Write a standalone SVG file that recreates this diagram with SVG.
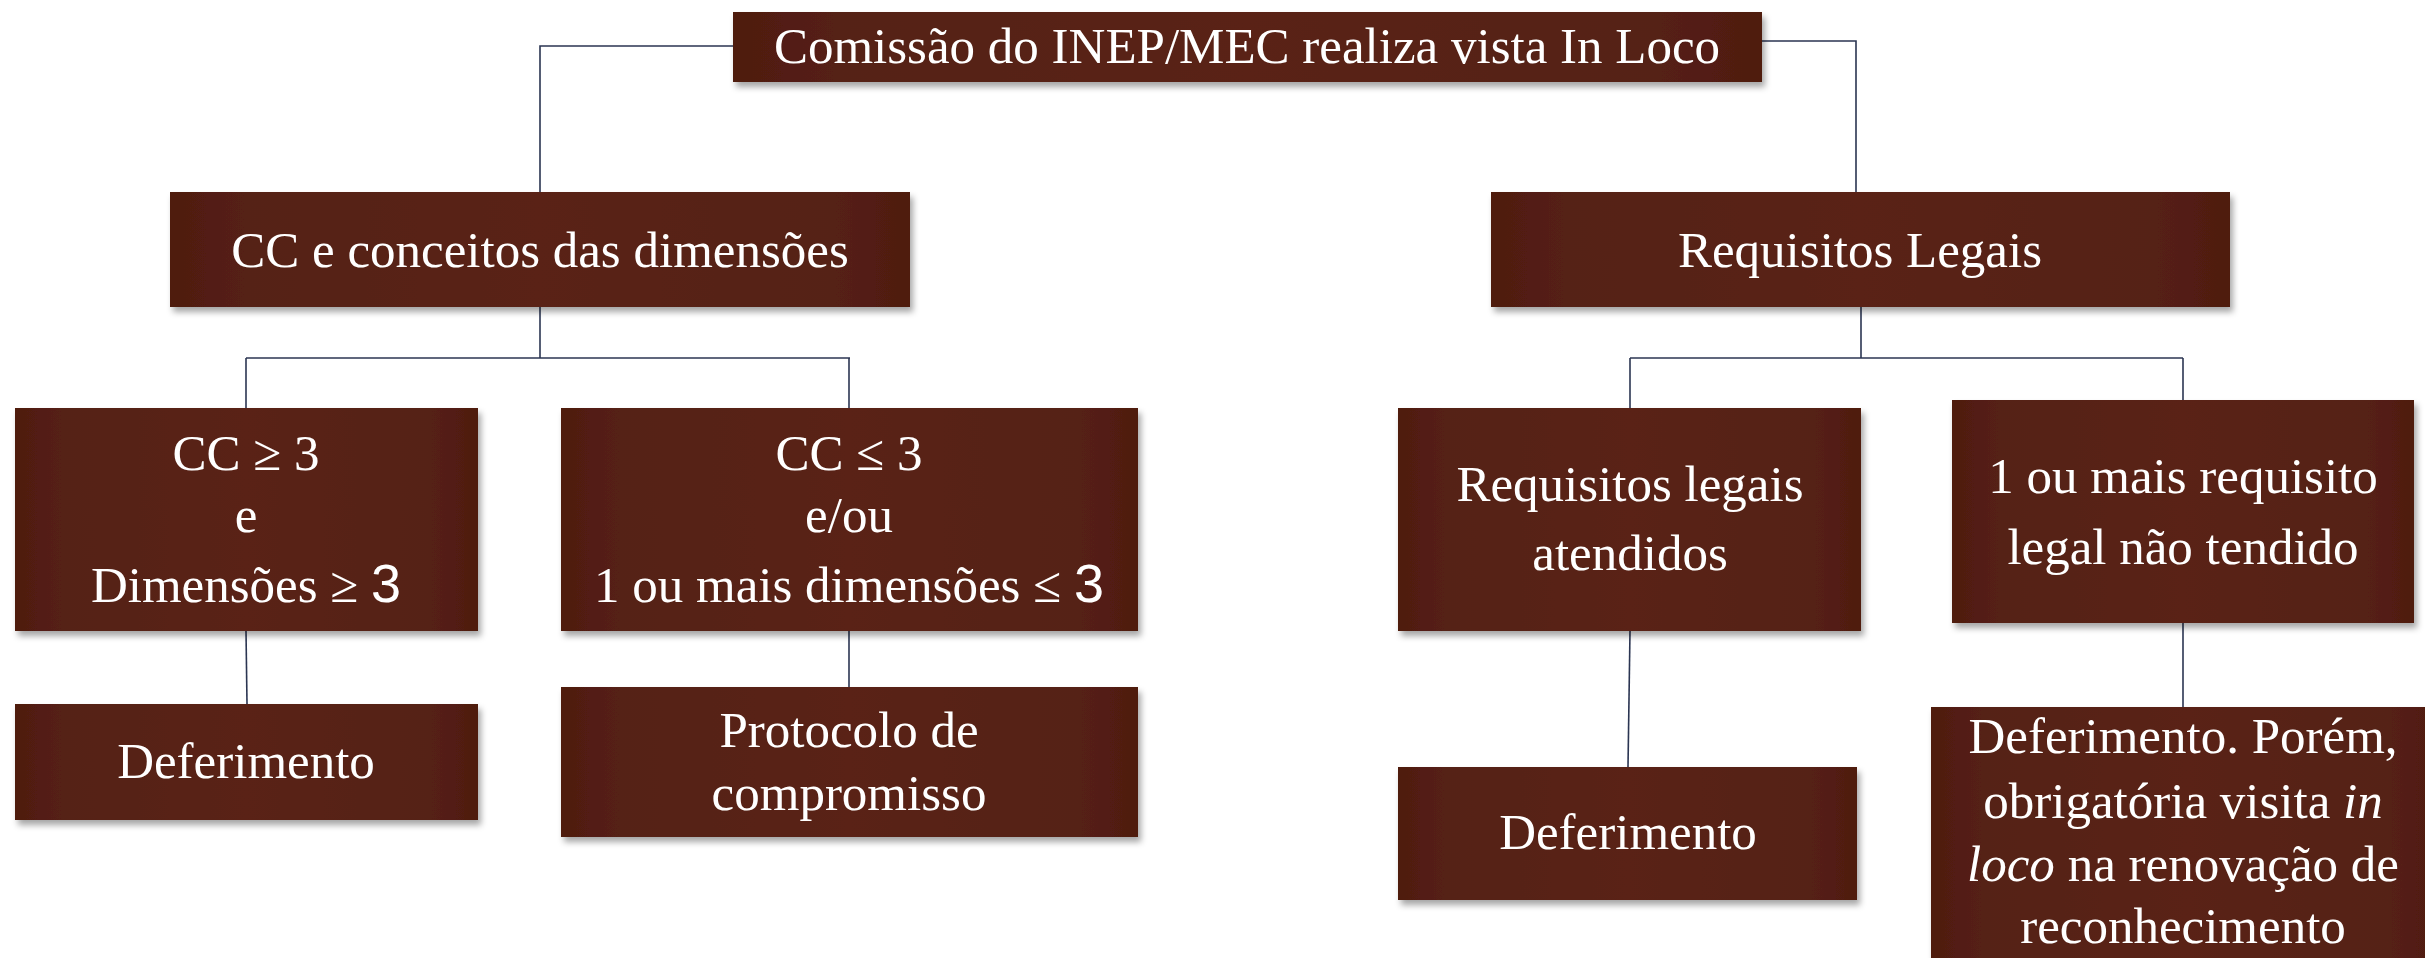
<svg xmlns="http://www.w3.org/2000/svg" width="2425" height="958" viewBox="0 0 2425 958">
<defs>
<linearGradient id="bg" x1="0" y1="0" x2="1" y2="0">
<stop offset="0" stop-color="#4f1c10"/>
<stop offset="0.1" stop-color="#552014"/>
<stop offset="0.5" stop-color="#5a2315"/>
<stop offset="0.9" stop-color="#552014"/>
<stop offset="1" stop-color="#4f1c10"/>
</linearGradient>
<filter id="sh" x="-5%" y="-5%" width="112%" height="125%">
<feDropShadow dx="3" dy="5" stdDeviation="3" flood-color="#000" flood-opacity="0.35"/>
</filter>
</defs>
<style>
.box{fill:url(#bg);filter:url(#sh)}
.t{font-family:"Liberation Serif","DejaVu Serif",serif;font-size:51px;fill:#ffffff;text-anchor:middle}
.c{fill:none;stroke:#2b3552;stroke-width:1.6}
</style>
<rect width="2425" height="958" fill="#ffffff"/>
<g id="connectors">
<polyline class="c" points="733,46 540,46 540,192"/>
<polyline class="c" points="1762,41 1856,41 1856,192"/>
<line class="c" x1="540" y1="307" x2="540" y2="358"/>
<line class="c" x1="246" y1="358" x2="850" y2="358"/>
<line class="c" x1="246" y1="358" x2="246" y2="408"/>
<line class="c" x1="849" y1="358" x2="849" y2="408"/>
<line class="c" x1="246" y1="631" x2="247" y2="704"/>
<line class="c" x1="849" y1="631" x2="849" y2="687"/>
<line class="c" x1="1861" y1="307" x2="1861" y2="358"/>
<line class="c" x1="1630" y1="358" x2="2183" y2="358"/>
<line class="c" x1="1630" y1="358" x2="1630" y2="408"/>
<line class="c" x1="2183" y1="358" x2="2183" y2="400"/>
<line class="c" x1="1630" y1="631" x2="1628" y2="767"/>
<line class="c" x1="2183" y1="623" x2="2183" y2="707"/>
</g>
<g id="n-top">
<rect class="box" x="733" y="12" width="1029" height="70"/>
<text class="t" x="1247" y="63">Comissão do INEP/MEC realiza vista In Loco</text>
</g>
<g id="n-cc">
<rect class="box" x="170" y="192" width="740" height="115"/>
<text class="t" x="540" y="267">CC e conceitos das dimensões</text>
</g>
<g id="n-req">
<rect class="box" x="1491" y="192" width="739" height="115"/>
<text class="t" x="1860" y="267">Requisitos Legais</text>
</g>
<g id="n-ccge">
<rect class="box" x="15" y="408" width="463" height="223"/>
<text class="t" x="246" y="470">CC ≥ 3</text>
<text class="t" x="246" y="532">e</text>
<text class="t" x="246" y="602">Dimensões ≥  <tspan font-family="Liberation Sans, sans-serif" font-size="54">3</tspan></text>
</g>
<g id="n-ccle">
<rect class="box" x="561" y="408" width="577" height="223"/>
<text class="t" x="849" y="470">CC ≤ 3</text>
<text class="t" x="849" y="532">e/ou</text>
<text class="t" x="849" y="602">1 ou mais dimensões ≤  <tspan font-family="Liberation Sans, sans-serif" font-size="54">3</tspan></text>
</g>
<g id="n-def1">
<rect class="box" x="15" y="704" width="463" height="116"/>
<text class="t" x="246" y="778">Deferimento</text>
</g>
<g id="n-prot">
<rect class="box" x="561" y="687" width="577" height="150"/>
<text class="t" x="849" y="747">Protocolo de</text>
<text class="t" x="849" y="810">compromisso</text>
</g>
<g id="n-reqat">
<rect class="box" x="1398" y="408" width="463" height="223"/>
<text class="t" x="1630" y="501">Requisitos legais</text>
<text class="t" x="1630" y="570">atendidos</text>
</g>
<g id="n-reqnao">
<rect class="box" x="1952" y="400" width="462" height="223"/>
<text class="t" x="2183" y="493">1 ou mais requisito</text>
<text class="t" x="2183" y="564">legal não tendido</text>
</g>
<g id="n-def2">
<rect class="box" x="1398" y="767" width="459" height="133"/>
<text class="t" x="1628" y="849">Deferimento</text>
</g>
<g id="n-def3">
<rect class="box" x="1931" y="707" width="510" height="270"/>
<text class="t" x="2183" y="753">Deferimento. Porém,</text>
<text class="t" x="2183" y="818">obrigatória visita <tspan font-style="italic">in</tspan></text>
<text class="t" x="2183" y="881"><tspan font-style="italic">loco</tspan> na renovação de</text>
<text class="t" x="2183" y="943">reconhecimento</text>
</g>
</svg>
